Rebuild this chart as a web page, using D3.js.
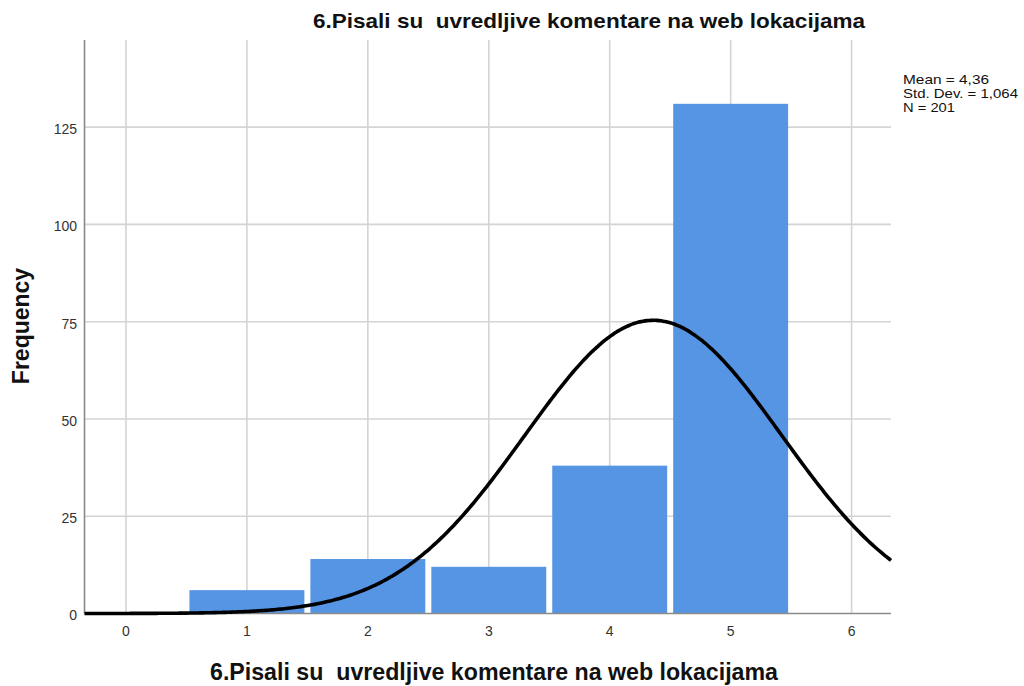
<!DOCTYPE html>
<html><head><meta charset="utf-8">
<script src="https://cdn.jsdelivr.net/npm/d3@7"></script>
<style>
body{margin:0;background:#fff;}
text{font-family:"Liberation Sans",Arial,sans-serif;}
</style></head>
<body><svg id="c" width="1024" height="686"></svg>
<script>
const titleText = "6.Pisali su  uvredljive komentare na web lokacijama";
const binCenters = [1, 2, 3, 4, 5];
const frequencies = [6, 14, 12, 38, 131];
const xTicks = [0, 1, 2, 3, 4, 5, 6];
const yTicks = [0, 25, 50, 75, 100, 125];
const statsLines = ["Mean = 4,36", "Std. Dev. = 1,064", "N = 201"];
const meanVal = 4.36, sdVal = 1.064, nVal = 201;

const svg = d3.select("#c");
const L = 84.5, R = 891, T = 40, B = 613.5;
const x = d3.scaleLinear().domain([-0.343, 6.326]).range([L, R]);
const y = d3.scaleLinear().domain([0, 147.4]).range([B, T]);

// grid
svg.append("g").selectAll("line").data(yTicks.filter(d=>d>0)).join("line")
  .attr("x1", L).attr("x2", R).attr("y1", d=>y(d)).attr("y2", d=>y(d))
  .attr("stroke", "#d4d4d4").attr("stroke-width", 1.6);
svg.append("g").selectAll("line").data(xTicks).join("line")
  .attr("x1", d=>x(d)).attr("x2", d=>x(d)).attr("y1", T).attr("y2", B)
  .attr("stroke", "#d4d4d4").attr("stroke-width", 1.6);

// bars
const bw = x(1) - x(0);
svg.append("g").selectAll("rect").data(binCenters).join("rect")
  .attr("x", (d)=>x(d - 0.5) + 3)
  .attr("width", bw - 6)
  .attr("y", (d,i)=>y(frequencies[i]))
  .attr("height", (d,i)=>B - y(frequencies[i]))
  .attr("fill", "#5595e4");

// axes
svg.append("line").attr("x1", L).attr("x2", L).attr("y1", T).attr("y2", B)
  .attr("stroke", "#8a8a8a").attr("stroke-width", 1.6);
svg.append("line").attr("x1", L).attr("x2", R).attr("y1", B).attr("y2", B)
  .attr("stroke", "#8a8a8a").attr("stroke-width", 1.6);

// normal curve
const pts = d3.range(0, 401).map(i => {
  const xv = -0.343 + i * (6.326 + 0.343) / 400;
  const z = (xv - meanVal) / sdVal;
  return [xv, nVal / (sdVal * Math.sqrt(2 * Math.PI)) * Math.exp(-0.5 * z * z)];
});
svg.append("path").datum(pts)
  .attr("d", d3.line().x(d=>x(d[0])).y(d=>y(d[1])).curve(d3.curveBasis))
  .attr("fill", "none").attr("stroke", "#000").attr("stroke-width", 3.6);

// tick labels
svg.append("g").selectAll("text").data(yTicks).join("text")
  .attr("x", 77).attr("y", d=>y(d) + 2).attr("dy", "0.35em")
  .attr("text-anchor", "end").attr("font-size", 14).attr("fill", "#333")
  .text(d=>d);
svg.append("g").selectAll("text").data(xTicks).join("text")
  .attr("x", d=>x(d)).attr("y", 636)
  .attr("text-anchor", "middle").attr("font-size", 14).attr("fill", "#333")
  .text(d=>d);

// titles
svg.append("text").attr("x", 313).attr("y", 28)
  .attr("font-size", 21).attr("font-weight", "bold").style("white-space", "pre")
  .attr("textLength", 552).attr("lengthAdjust", "spacingAndGlyphs")
  .attr("fill", "#111").text(titleText);
svg.append("text").attr("x", 210).attr("y", 680)
  .attr("font-size", 23).attr("font-weight", "bold").style("white-space", "pre")
  .attr("textLength", 568).attr("lengthAdjust", "spacingAndGlyphs")
  .attr("fill", "#111").text(titleText);
svg.append("text").attr("transform", "translate(29,326) rotate(-90)")
  .attr("text-anchor", "middle").attr("font-size", 23).attr("font-weight", "bold")
  .attr("fill", "#111").text("Frequency");

// stats
const statLens = [86, 115, 52];
svg.append("g").selectAll("text").data(statsLines).join("text")
  .attr("x", 903).attr("y", (d,i)=>84 + i * 14)
  .attr("font-size", 13).attr("fill", "#111")
  .attr("textLength", (d,i)=>statLens[i]).attr("lengthAdjust", "spacingAndGlyphs")
  .text(d=>d);
</script></body></html>
